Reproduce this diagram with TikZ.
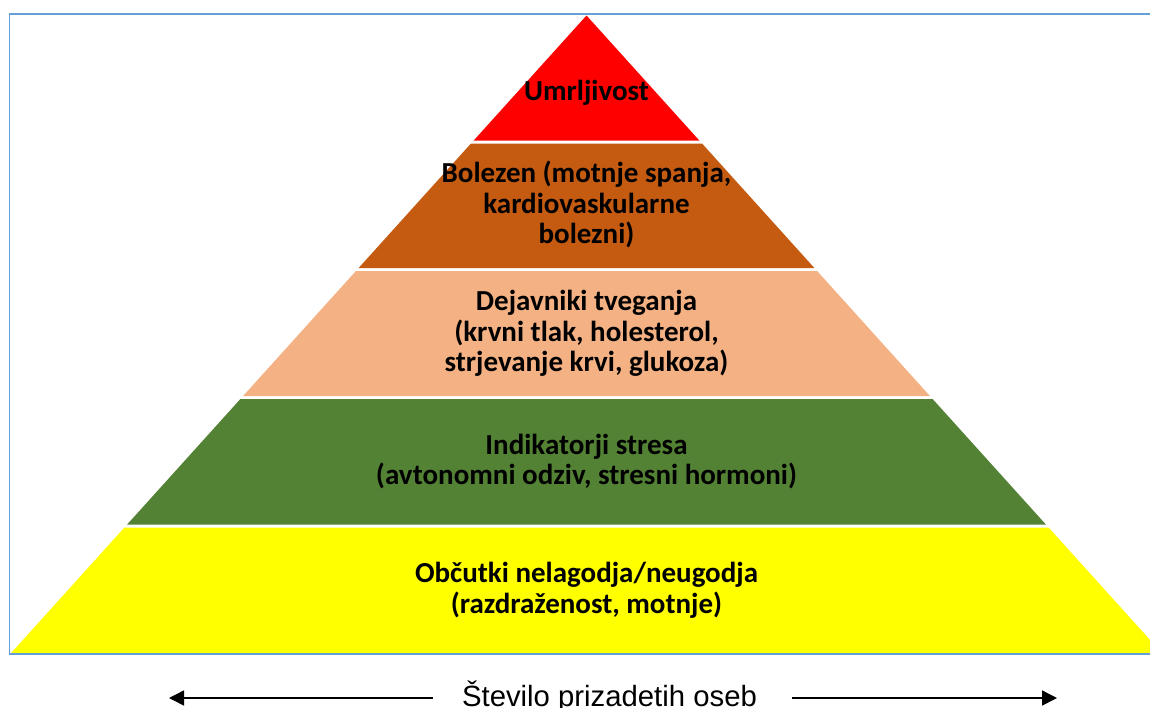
\documentclass[tikz,border=0pt]{standalone}
\usepackage{fontspec}
\setmainfont{Carlito}
\newfontfamily\arialf{Liberation Sans}
\usetikzlibrary{arrows.meta}
\definecolor{tred}{HTML}{FF0000}
\definecolor{tbrown}{HTML}{C55A11}
\definecolor{tsalmon}{HTML}{F4B183}
\definecolor{tgreen}{HTML}{548235}
\definecolor{tyellow}{HTML}{FFFF00}
\definecolor{frameblue}{RGB}{100,160,215}
\newcommand\cxv{586.5}
\newcommand\ayv{15.5}
\newcommand\slv{0.9025}
\newcommand\tierfill[3]{%
  \fill[#3] ({\cxv-\slv*(#1-\ayv)},#1) -- ({\cxv+\slv*(#1-\ayv)},#1) --
    ({\cxv+\slv*(#2-\ayv)},#2) -- ({\cxv-\slv*(#2-\ayv)},#2) -- cycle;}
\begin{document}
\begin{tikzpicture}[x=1pt,y=-1pt,
  tiertext/.style={font=\bfseries\fontsize{29}{30.5}\selectfont, align=center, inner sep=0pt, anchor=base},
  framestyle/.style={draw=frameblue, line width=1.6pt},
  arr/.style={line width=1.5pt, -{Triangle[length=15pt,width=15pt]}}]
\useasboundingbox (0,0) rectangle (1150,707);
\clip (0,0) rectangle (1150,707);
\tierfill{15.5}{140.5}{tred}
\tierfill{143.5}{268}{tbrown}
\tierfill{271}{396}{tsalmon}
\tierfill{399}{524.5}{tgreen}
\tierfill{527.5}{654}{tyellow}
\draw[framestyle] (1165,14) -- (9.5,14) -- (9.5,654) -- (1165,654);
\node[tiertext] (t1) at (586.5,100) {Umrljivost};
\node[tiertext] (t2) at (586.5,243.5) {Bolezen (motnje spanja,\\kardiovaskularne\\bolezni)};
\node[tiertext] (t3) at (586.5,371.5) {Dejavniki tveganja\\(krvni tlak, holesterol,\\strjevanje krvi, glukoza)};
\node[tiertext] (t4) at (586.5,484.5) {Indikatorji stresa\\(avtonomni odziv, stresni hormoni)};
\node[tiertext] (t5) at (586.5,613) {Občutki nelagodja/neugodja\\(razdraženost, motnje)};
\node[font=\arialf\fontsize{29.3}{34}\selectfont, inner sep=0pt, anchor=base] (lab) at (609.5,706) {Število prizadetih oseb};
\coordinate (la) at (433,698);
\coordinate (lt) at (169,698);
\coordinate (ra) at (792,698);
\coordinate (rt) at (1057,698);
\draw[arr] (la) -- (lt);
\draw[arr] (ra) -- (rt);
\end{tikzpicture}
\end{document}
